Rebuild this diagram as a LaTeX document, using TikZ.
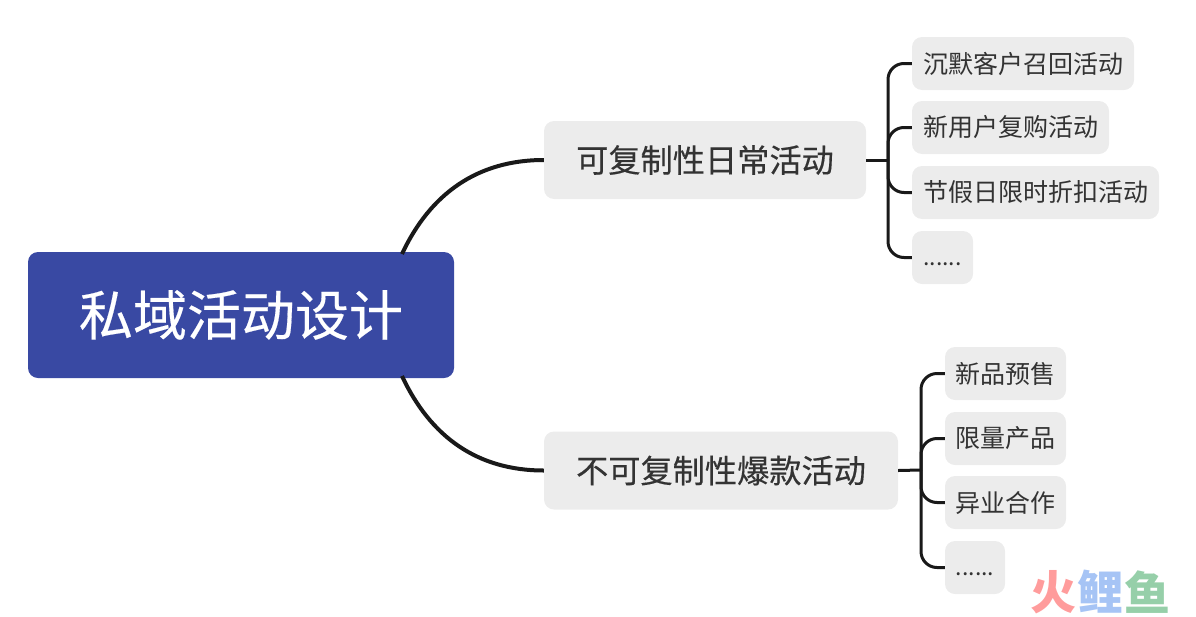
\documentclass[tikz,border=0pt]{standalone}
\usepackage{fontspec}
\setmainfont{Noto Sans CJK SC}
\newfontfamily\heavy[FakeBold=0.35]{Noto Sans CJK SC}
\usetikzlibrary{positioning}
\definecolor{rootblue}{HTML}{3949A3}
\definecolor{boxgray}{HTML}{ECECEC}
\definecolor{textgray}{HTML}{333333}
\definecolor{markred}{HTML}{FF9C9C}
\definecolor{markblue}{HTML}{A6C4F5}
\definecolor{markgreen}{HTML}{96CFA9}
\newcommand\moredots{\smash{\raisebox{-8pt}{\fontsize{23}{23}\selectfont ......}}}
\tikzset{
root/.style={fill=rootblue, text=white, rounded corners=10pt, minimum width=426pt, minimum height=126pt, inner sep=0pt, font=\heavy\fontsize{54}{54}\selectfont},
branch/.style={fill=boxgray, text=textgray, rounded corners=10pt, minimum height=78pt, inner sep=0pt, font=\heavy\fontsize{32.2}{32}\selectfont},
leaf/.style={fill=boxgray, text=textgray, rounded corners=10pt, minimum height=53pt, inner sep=0pt, font=\fontsize{25}{25}\selectfont},
link/.style={draw=black!90, line width=4pt},
fork/.style={draw=black!90, line width=3pt, rounded corners=16pt},
mark1/.style={inner sep=0pt, font=\bfseries\fontsize{46}{46}\selectfont}
}
\begin{document}
\begin{tikzpicture}[x=1pt, y=-1pt]
\useasboundingbox (0,0) rectangle (1196,616);
% links are drawn first, the boxes sit on top
\coordinate (r1) at (402,254);
\coordinate (r2) at (402,376);
\coordinate (s1) at (888,160);
\coordinate (s2) at (921,470);
\node[root] (r) at (241,315) {私域活动设计};
\node[branch, minimum width=322pt] (b1) at (705,160) {可复制性日常活动};
\node[branch, minimum width=354pt] (b2) at (721,470.5) {不可复制性爆款活动};
\node[leaf, minimum width=222pt] (a1) at (1023,63.5) {沉默客户召回活动};
\node[leaf, minimum width=197pt] (a2) at (1010.5,127.5) {新用户复购活动};
\node[leaf, minimum width=247pt] (a3) at (1035.5,192.5) {节假日限时折扣活动};
\node[leaf, minimum width=61pt] (a4) at (942.5,257.5) {\moredots};
\node[leaf, minimum width=121pt] (c1) at (1005.5,373.5) {新品预售};
\node[leaf, minimum width=121pt] (c2) at (1005.5,438.5) {限量产品};
\node[leaf, minimum width=121pt] (c3) at (1005.5,502.5) {异业合作};
\node[leaf, minimum width=60pt] (c4) at (975,567.5) {\moredots};
\draw[link] (r1) to[out=65, in=180] (b1.west);
\draw[link] (r2) to[out=-65, in=180] (b2.west);
\draw[fork] (b1.east) -- (s1);
\draw[fork] (s1) |- (a1.west);
\draw[fork] (s1) |- (a2.west);
\draw[fork] (s1) |- (a3.west);
\draw[fork] (s1) |- (a4.west);
\draw[fork] (b2.east) -- (s2);
\draw[fork] (s2) |- (c1.west);
\draw[fork] (s2) |- (c2.west);
\draw[fork] (s2) |- (c3.west);
\draw[fork] (s2) |- (c4.west);
\node[mark1, text=markred] (m1) at (1053,592) {火};
\node[mark1, text=markblue, right=1pt of m1] (m2) {鲤};
\node[mark1, text=markgreen, right=1pt of m2] (m3) {鱼};
\end{tikzpicture}
\end{document}
